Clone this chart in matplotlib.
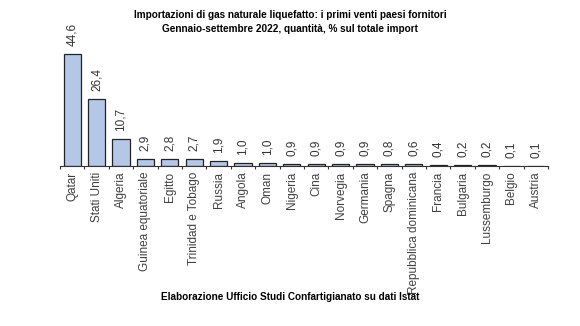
import matplotlib.pyplot as plt
import numpy as np

plt.rcParams['font.family'] = ['Liberation Sans', 'DejaVu Sans']

paesi = ['Qatar', 'Stati Uniti', 'Algeria', 'Guinea equatoriale', 'Egitto',
         'Trinidad e Tobago', 'Russia', 'Angola', 'Oman', 'Nigeria', 'Cina',
         'Norvegia', 'Germania', 'Spagna', 'Repubblica dominicana', 'Francia',
         'Bulgaria', 'Lussemburgo', 'Belgio', 'Austria']
quote = [44.6, 26.4, 10.7, 2.9, 2.8, 2.7, 1.9, 1.0, 1.0, 0.9, 0.9,
         0.9, 0.9, 0.8, 0.6, 0.4, 0.2, 0.2, 0.1, 0.1]

fig = plt.figure(figsize=(5.8, 3.26), dpi=100)
ax = fig.add_axes([60 / 580, 160 / 326, 488 / 580, 126 / 326])

x = np.arange(len(paesi))
ax.bar(x, quote, width=0.7, color='#b4c7e7', edgecolor='#222222', linewidth=0.9)
for xi, v in zip(x, quote):
    ax.text(xi, v + 3.2, f'{v:.1f}'.replace('.', ','), rotation=90,
            ha='center', va='bottom', fontsize=8.5, color='#333333')

ax.set_xlim(-0.5, len(paesi) - 0.5)
ax.set_ylim(0, 50)
ax.set_xticks(x)
ax.set_xticklabels(paesi, rotation=90, fontsize=8.5, color='#404040')
ax.tick_params(axis='x', length=0, pad=4)
ax.set_xticks(np.arange(len(paesi) + 1) - 0.5, minor=True)
ax.tick_params(axis='x', which='minor', length=2, width=0.8, color='#333333')
ax.set_yticks([])
for s in ['top', 'right', 'left']:
    ax.spines[s].set_visible(False)
ax.spines['bottom'].set_color('#333333')

fig.text(0.5, 1 - 15 / 326, 'Importazioni di gas naturale liquefatto: i primi venti paesi fornitori',
         ha='center', va='center', fontsize=7.2, fontweight='bold')
fig.text(0.5, 1 - 29 / 326, 'Gennaio-settembre 2022, quantità, % sul totale import',
         ha='center', va='center', fontsize=7.2, fontweight='bold')
fig.text(0.5, 1 - 297 / 326, 'Elaborazione Ufficio Studi Confartigianato su dati Istat',
         ha='center', va='center', fontsize=7.2, fontweight='bold')

fig.savefig('out.png', dpi=100)
